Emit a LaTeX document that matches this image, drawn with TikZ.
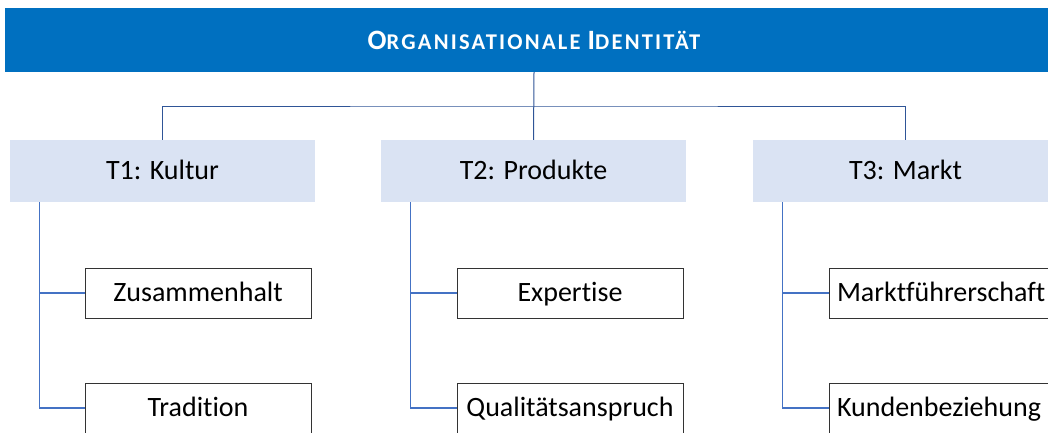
\documentclass[tikz,border=0pt]{standalone}
\usepackage{fontspec}
\setmainfont{Carlito}[Ligatures=NoCommon]
\usepackage{xcolor}
\usetikzlibrary{positioning}

\definecolor{headblue}{HTML}{0070C0}
\definecolor{topicblue}{HTML}{DAE3F3}
\definecolor{linkblue}{HTML}{4472C4}
\definecolor{barblue}{HTML}{2F5597}

\newcommand{\headcapbig}[1]{{\fontsize{28}{32}\selectfont #1}}
\newcommand{\headcapsmall}[1]{{\fontsize{22.5}{26}\selectfont #1}}

\begin{document}
\begin{tikzpicture}[x=1pt,y=-1pt,
    head/.style={rectangle, fill=headblue, text=white, minimum width=1058pt, minimum height=64pt, inner sep=0pt, text height=24pt, text depth=5.4pt},
    topic/.style={rectangle, fill=topicblue, minimum width=305pt, minimum height=62pt, inner sep=0pt, text height=23pt, text depth=6pt, font=\fontsize{28}{32}\selectfont},
    facet/.style={rectangle, draw=black!80, line width=0.8pt, fill=white, minimum width=226pt, minimum height=50pt, inner sep=0pt, text height=23pt, text depth=6pt, font=\fontsize{28}{32}\selectfont},
    bar/.style={draw=barblue, line width=1pt},
    link/.style={draw=linkblue, line width=1.2pt}]
    \useasboundingbox (0,0) rectangle (1048,432);

    \node(head) [head] at (534,40) {\bfseries\addfontfeature{LetterSpace=10}\headcapbig{O}\headcapsmall{RGANISATIONALE}\hspace{7pt}\headcapbig{I}\headcapsmall{DENTITÄT}};

    \node(t1) [topic] at (162.5,171) {T1: Kultur};
    \node(t2) [topic] at (533.5,171) {T2: Produkte};
    \node(t3) [topic] at (905.5,171) {T3: Markt};

    \node(c11) [facet] at (198,293) {Zusammenhalt};
    \node(c12) [facet] at (198,408) {Tradition};
    \node(c21) [facet] at (570,293) {Expertise};
    \node(c22) [facet] at (570,408) {Qualitätsanspruch};
    \node(c31) [facet, text width=210pt, align=left] at (942,293) {Marktführerschaft};
    \node(c32) [facet, text width=210pt, align=left] at (942,408) {Kundenbeziehung};

    \coordinate (split) at (534,106);
    \draw[bar] (head.south) -- (t2.north);
    \draw[bar] (t1.north) |- (split) -| (t3.north);

    \draw[link] (t1.south west) ++(30,0) |- (c12.west);
    \draw[link] (t1.south west) ++(30,0) |- (c11.west);
    \draw[link] (t2.south west) ++(30,0) |- (c22.west);
    \draw[link] (t2.south west) ++(30,0) |- (c21.west);
    \draw[link] (t3.south west) ++(30,0) |- (c32.west);
    \draw[link] (t3.south west) ++(30,0) |- (c31.west);
\end{tikzpicture}
\end{document}
